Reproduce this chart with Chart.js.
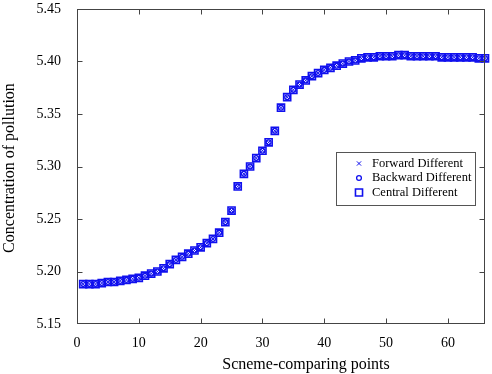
<!DOCTYPE html>
<html>
<head>
<meta charset="utf-8">
<script src="https://cdn.jsdelivr.net/npm/chart.js@4.4.1/dist/chart.umd.min.js"></script>
<style>
  html, body { margin: 0; padding: 0; background: #fff; }
  #wrap { width: 492px; height: 374px; position: relative; }
</style>
</head>
<body>
<div id="wrap"><canvas id="pollutionChart" width="492" height="374"></canvas></div>
<script>
// Scheme-comparing point numbers
const points = [
  1, 2, 3, 4, 5, 6, 7, 8, 9, 10, 11, 12, 13, 14, 15, 16, 17, 18, 19, 20, 21, 22,
  23, 24, 25, 26, 27, 28, 29, 30, 31, 32, 33, 34, 35, 36, 37, 38, 39, 40, 41, 42,
  43, 44, 45, 46, 47, 48, 49, 50, 51, 52, 53, 54, 55, 56, 57, 58, 59, 60, 61, 62,
  63, 64, 65, 66
];

// Concentration (the three schemes overlap exactly)
const concentration = [
  5.188, 5.188, 5.188, 5.189, 5.190, 5.190, 5.191, 5.192, 5.193, 5.194, 5.196,
  5.198, 5.200, 5.203, 5.207, 5.211, 5.214, 5.217, 5.220, 5.223, 5.227, 5.231,
  5.237, 5.247, 5.258, 5.281, 5.293, 5.300, 5.308, 5.315, 5.323, 5.334, 5.356,
  5.366, 5.373, 5.378, 5.382, 5.386, 5.389, 5.392, 5.394, 5.396, 5.398, 5.400,
  5.401, 5.403, 5.404, 5.404, 5.405, 5.405, 5.405, 5.406, 5.406, 5.405, 5.405,
  5.405, 5.405, 5.405, 5.404, 5.404, 5.404, 5.404, 5.404, 5.404, 5.403, 5.403
];

const seriesNames = ["Forward Different", "Backward Different", "Central Different"];
const xTicks = [0, 10, 20, 30, 40, 50, 60];
const yTicks = [5.15, 5.20, 5.25, 5.30, 5.35, 5.40, 5.45];

const BLUE = "#1010ee";
const FONT = "'Liberation Serif', 'DejaVu Serif', serif";

const toXY = (vals) => vals.map((v, i) => ({ x: points[i], y: v }));

// marker styles for each scheme
const markers = [
  { pointStyle: "crossRot", radius: 3, borderWidth: 1 },
  { pointStyle: "circle", radius: 2.4, borderWidth: 1.3 },
  { pointStyle: "rect", radius: 5, borderWidth: 1.6 },
];

// draws a legend marker like the chart's own
function drawMarker(ctx, style, x, y) {
  ctx.save();
  ctx.strokeStyle = BLUE;
  ctx.lineWidth = style.borderWidth;
  ctx.beginPath();
  if (style.pointStyle === "crossRot") {
    const d = style.radius * Math.SQRT1_2;
    ctx.moveTo(x - d, y - d); ctx.lineTo(x + d, y + d);
    ctx.moveTo(x - d, y + d); ctx.lineTo(x + d, y - d);
  } else if (style.pointStyle === "circle") {
    ctx.arc(x, y, style.radius, 0, Math.PI * 2);
  } else {
    const s = style.radius * Math.SQRT1_2;
    ctx.rect(x - s, y - s, 2 * s, 2 * s);
  }
  ctx.stroke();
  ctx.restore();
}

// Frame, inward ticks, axis titles and boxed legend
const framePlugin = {
  id: "frame",
  afterDraw(chart) {
    const { ctx, chartArea: a, scales } = chart;
    const L = Math.round(a.left) + 0.5, R = Math.round(a.right) - 0.5;
    const T = Math.round(a.top) + 0.5, B = Math.round(a.bottom) - 0.5;
    ctx.save();
    ctx.strokeStyle = "#444";
    ctx.lineWidth = 1;
    ctx.strokeRect(L, T, R - L, B - T);

    ctx.beginPath();
    xTicks.forEach((v) => {
      const px = Math.round(scales.x.getPixelForValue(v)) + 0.5;
      if (px <= L + 1 || px >= R - 1) return;
      ctx.moveTo(px, B); ctx.lineTo(px, B - 5);
      ctx.moveTo(px, T); ctx.lineTo(px, T + 5);
    });
    yTicks.forEach((v) => {
      const py = Math.round(scales.y.getPixelForValue(v)) + 0.5;
      if (py <= T + 1 || py >= B - 1) return;
      ctx.moveTo(L, py); ctx.lineTo(L + 5, py);
      ctx.moveTo(R, py); ctx.lineTo(R - 5, py);
    });
    ctx.stroke();

    // axis titles
    ctx.fillStyle = "#000";
    ctx.font = "16px " + FONT;
    ctx.textAlign = "center";
    ctx.textBaseline = "middle";
    ctx.fillText("Scneme-comparing points", 306, 365);
    ctx.save();
    ctx.translate(10, 168);
    ctx.rotate(-Math.PI / 2);
    ctx.fillText("Concentration of pollution", 0, 0);
    ctx.restore();

    // legend box
    const bx = 336.5, by = 152.5, bw = 139, bh = 53;
    ctx.fillStyle = "#fff";
    ctx.fillRect(bx, by, bw, bh);
    ctx.strokeStyle = "#555";
    ctx.strokeRect(bx, by, bw, bh);
    ctx.font = "12.5px " + FONT;
    ctx.textAlign = "left";
    ctx.fillStyle = "#000";
    seriesNames.forEach((name, i) => {
      const ly = by + 11 + i * 14.5;
      drawMarker(ctx, markers[i], 359, ly);
      ctx.fillText(name, 372, ly);
    });
    ctx.restore();
  },
};

const ctx = document.getElementById("pollutionChart").getContext("2d");
new Chart(ctx, {
  type: "scatter",
  data: {
    datasets: seriesNames.map((name, i) => ({
      label: name,
      data: toXY(concentration),
      pointStyle: markers[i].pointStyle,
      pointRadius: markers[i].radius,
      pointBorderWidth: markers[i].borderWidth,
      borderColor: BLUE,
      backgroundColor: "rgba(0,0,0,0)",
      pointBackgroundColor: "rgba(0,0,0,0)",
    })),
  },
  options: {
    responsive: false,
    animation: false,
    clip: false,
    layout: { padding: { top: 9, right: 7, left: 0, bottom: 0 } },
    plugins: {
      legend: { display: false },
      tooltip: { enabled: false },
    },
    scales: {
      x: {
        type: "linear",
        min: 0,
        max: 66,
        grid: { display: false, drawTicks: false },
        border: { display: false },
        afterBuildTicks: (scale) => { scale.ticks = xTicks.map((v) => ({ value: v })); },
        afterFit: (scale) => {
          scale.height = 50;
          scale.paddingLeft = 0;
          scale.paddingRight = 0;
        },
        ticks: {
          padding: 11,
          color: "#000",
          font: { family: FONT, size: 14 },
          maxRotation: 0,
        },
      },
      y: {
        type: "linear",
        min: 5.15,
        max: 5.45,
        grid: { display: false, drawTicks: false },
        border: { display: false },
        afterBuildTicks: (scale) => { scale.ticks = yTicks.map((v) => ({ value: v })); },
        afterFit: (scale) => {
          scale.width = 77;
          scale.paddingTop = 0;
          scale.paddingBottom = 0;
        },
        ticks: {
          padding: 16,
          color: "#000",
          font: { family: FONT, size: 14 },
          callback: (v) => v.toFixed(2),
        },
      },
    },
  },
  plugins: [framePlugin],
});
</script>
</body>
</html>
